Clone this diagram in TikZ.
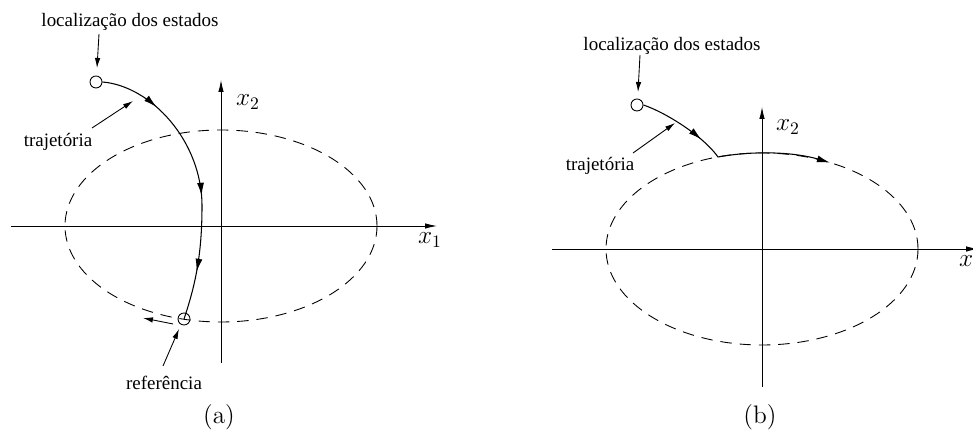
\documentclass[tikz,border=0pt]{standalone}
\usepackage[no-math]{fontspec}
\newfontfamily\notefont{Liberation Serif}
\usetikzlibrary{arrows.meta, decorations.markings}
\tikzset{
    axis/.style={-{Latex[length=2.4mm,width=1.1mm]}, line width=0.5pt},
    orbit/.style={line width=0.5pt, dash pattern=on 6.5pt off 4.5pt},
    traj/.style={line width=0.6pt},
    pointer/.style={-{Latex[length=2mm,width=1.1mm]}, line width=0.5pt},
    state/.style={circle, draw, line width=0.5pt, inner sep=0pt, minimum size=0.24cm},
    note/.style={font=\notefont\fontsize{10.8}{13}\selectfont, inner sep=0pt},
    axlabel/.style={font=\Large, inner sep=0pt},
    caption/.style={font=\Large, inner sep=0pt}
}
\newcommand{\trajtip}{\arrow{Latex[length=2.6mm,width=1.4mm]}}

\begin{document}
\begin{tikzpicture}[x=0.02cm, y=0.02cm]
    \useasboundingbox (0,0) rectangle (973,432);

    % (a) estado longe da referencia
    \begin{scope}[shift={(221,206)}]
        \draw[orbit] (0,0) ellipse [x radius=156, y radius=96];
        \coordinate (a-w) at (-210,0);
        \coordinate (a-e) at (216,0);
        \coordinate (a-s) at (0,-137);
        \coordinate (a-n) at (0,146);
        \draw[axis] (a-w) -- (a-e);
        \draw[axis] (a-s) -- (a-n);
        \node[axlabel] (a-x1) at (209,-14) {$x_1$};
        \node[axlabel] (a-x2) at (27,124) {$x_2$};

        \node[state] (a-start) at (-125,144) {};
        \node[state] (a-ref) at (-37,-93) {};
        \coordinate (a-mid) at (-19,20);
        \draw[traj, postaction=decorate, decoration={markings,
                mark=at position 0.21 with {\trajtip},
                mark=at position 0.565 with {\trajtip},
                mark=at position 0.83 with {\trajtip}}]
            (a-start.east) .. controls (-70,140) and (-19,85) .. (a-mid)
            .. controls (-19,-30) and (-26,-60) .. (a-ref.center);
        \coordinate (a-tan-from) at (-48,-98);
        \coordinate (a-tan-to) at (-78,-92);
        \draw[pointer] (a-tan-from) -- (a-tan-to);

        \node[note] (a-loc) at (-91,204) {localização dos estados};
        \coordinate (a-loc-from) at (-122,192);
        \coordinate (a-loc-to) at (-124,158);
        \draw[pointer] (a-loc-from) -- (a-loc-to);

        \node[note] (a-traj) at (-163,84) {trajetória};
        \coordinate (a-traj-from) at (-129,98);
        \coordinate (a-traj-to) at (-88,125);
        \draw[pointer] (a-traj-from) -- (a-traj-to);

        \node[note] (a-refl) at (-57,-157) {referência};
        \coordinate (a-ref-from) at (-58,-140);
        \coordinate (a-ref-to) at (-42,-103);
        \draw[pointer] (a-ref-from) -- (a-ref-to);
    \end{scope}

    % (b) estado segue a orbita
    \begin{scope}[shift={(762,183)}]
        \draw[orbit] (0,0) ellipse [x radius=156, y radius=96];
        \coordinate (b-w) at (-210,0);
        \coordinate (b-e) at (216,0);
        \coordinate (b-s) at (0,-138);
        \coordinate (b-n) at (0,142);
        \draw[axis] (b-w) -- (b-e);
        \draw[axis] (b-s) -- (b-n);
        \node[axlabel] (b-x1) at (209,-14) {$x_1$};
        \node[axlabel] (b-x2) at (26,122) {$x_2$};

        \node[state] (b-start) at (-125,144) {};
        \coordinate (b-join) at (-44,92);
        \draw[traj, -{Latex[length=2.6mm,width=1.4mm]}, postaction=decorate,
                decoration={markings, mark=at position 0.33 with {\trajtip}}]
            (b-start.east) .. controls (-95,136) and (-58,112) .. (b-join)
            arc[start angle=106.4, end angle=64.2, x radius=156, y radius=96];

        \node[note] (b-loc) at (-90,203) {localização dos estados};
        \coordinate (b-loc-from) at (-122,194);
        \coordinate (b-loc-to) at (-124,157);
        \draw[pointer] (b-loc-from) -- (b-loc-to);

        \node[note] (b-traj) at (-162,83) {trajetória};
        \coordinate (b-traj-from) at (-129,96);
        \coordinate (b-traj-to) at (-87,126);
        \draw[pointer] (b-traj-from) -- (b-traj-to);
    \end{scope}

    \node[caption] (cap-a) at (219,15) {(a)};
    \node[caption] (cap-b) at (760,15) {(b)};
\end{tikzpicture}
\end{document}
